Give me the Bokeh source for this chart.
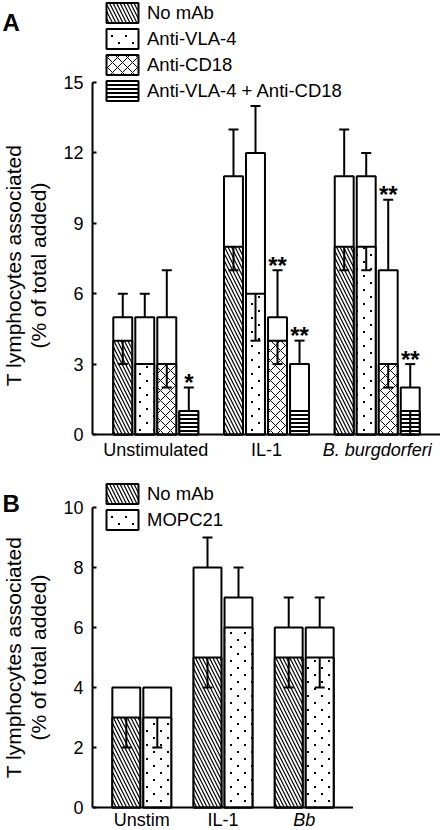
import math
import zlib
import struct
import base64
from bokeh.plotting import figure
from bokeh.models import (ColumnDataSource, FactorRange, FixedTicker, Whisker, TeeHead,
                          Legend, LegendItem, LabelSet, Range1d, Span, ImageURLTexture)
from bokeh.core.properties import value, field
from bokeh.layouts import column, row
from bokeh.embed import file_html
from bokeh.resources import INLINE

FONT = "Liberation Sans"

# ---------------- Panel A data ----------------
groups_a = ["Unstimulated", "IL-1", "B. burgdorferi"]
group_styles_a = ["normal", "normal", "italic"]
series_a = ["No mAb", "Anti-VLA-4", "Anti-CD18", "Anti-VLA-4 + Anti-CD18"]
ticks_a = [0, 3, 6, 9, 12, 15]

# hatched (lower) segment values and their lower error ends
nomab_low_a = [4, 8, 8]
vla4_low_a = [3, 6, 8]
cd18_low_a = [3, 4, 3]
both_low_a = [1, 1, 1]
nomab_low_err_a = [3, 7, 7]
vla4_low_err_a = [3, 4, 7]
cd18_low_err_a = [2, 3, 2]
both_low_err_a = [1, 1, 0]

# open (upper) bar values and their upper error ends
nomab_high_a = [5, 11, 11]
vla4_high_a = [5, 12, 11]
cd18_high_a = [5, 5, 7]
both_high_a = [1, 3, 2]
nomab_high_err_a = [6, 13, 13]
vla4_high_err_a = [6, 14, 12]
cd18_high_err_a = [7, 7, 10]
both_high_err_a = [2, 4, 3]

# significance marks
nomab_sig_a = ["", "", ""]
vla4_sig_a = ["", "", ""]
cd18_sig_a = ["", "**", "**"]
both_sig_a = ["*", "**", "**"]

# ---------------- Panel B data ----------------
groups_b = ["Unstim", "IL-1", "Bb"]
group_styles_b = ["normal", "normal", "italic"]
series_b = ["No mAb", "MOPC21"]
ticks_b = [0, 2, 4, 6, 8, 10]

nomab_low_b = [3, 5, 5]
mopc_low_b = [3, 6, 5]
nomab_low_err_b = [2, 4, 4]
mopc_low_err_b = [2, 6, 4]
nomab_high_b = [4, 8, 6]
mopc_high_b = [4, 7, 6]
nomab_high_err_b = [4, 9, 7]
mopc_high_err_b = [4, 8, 7]
nomab_sig_b = ["", "", ""]
mopc_sig_b = ["", "", ""]

Y_TITLE_1 = "T lymphocytes associated"
Y_TITLE_2 = "(% of total added)"


def dot_tile_png(size, dot, offsets):
    """Tiny transparent PNG tile with square black dots (a fill texture)."""
    rows = []
    for yy in range(size):
        line = bytearray(b"\x00")
        for xx in range(size):
            on = any(ox <= xx < ox + dot and oy <= yy < oy + dot for ox, oy in offsets)
            line += bytes((0, 0, 0, 255)) if on else bytes((255, 255, 255, 0))
        rows.append(bytes(line))
    raw = b"".join(rows)

    def chunk(tag, data):
        return (struct.pack(">I", len(data)) + tag + data +
                struct.pack(">I", zlib.crc32(tag + data) & 0xFFFFFFFF))

    png = (b"\x89PNG\r\n\x1a\n" +
           chunk(b"IHDR", struct.pack(">IIBBBBB", size, size, 8, 6, 0, 0, 0)) +
           chunk(b"IDAT", zlib.compress(raw)) + chunk(b"IEND", b""))
    return "data:image/png;base64," + base64.b64encode(png).decode()


DOT_URL = dot_tile_png(14, 2, [(2, 2), (9, 9)])


def sparse_dots():
    return dict(hatch_pattern=value("sparse_dots"),
                hatch_extra={"sparse_dots": ImageURLTexture(url=DOT_URL)})


HATCH = {
    "No mAb": dict(hatch_pattern="\\", hatch_scale=7, hatch_weight=1.2),
    "Anti-VLA-4": sparse_dots(),
    "MOPC21": sparse_dots(),
    "Anti-CD18": dict(hatch_pattern="x", hatch_scale=10, hatch_weight=1.0),
    "Anti-VLA-4 + Anti-CD18": dict(hatch_pattern="-", hatch_scale=4, hatch_weight=2.0),
}

LEFT_W = 60      # width of the strip holding panel letter and axis title
AXIS_W = 32      # room for the tick labels


def title_strip(height, letter, letter_y, title_y, x1, x2):
    t = figure(width=LEFT_W, height=height, x_range=Range1d(0, LEFT_W),
               y_range=Range1d(0, height), x_axis_type=None, y_axis_type=None,
               min_border=0, output_backend="svg", toolbar_location=None)
    t.outline_line_color = None
    t.text(x=[2], y=[letter_y], text=[letter], text_font=value(FONT),
           text_font_size="24px", text_font_style="bold", text_align="left",
           text_baseline="alphabetic", text_color="black")
    t.text(x=[x1, x2], y=[title_y, title_y], text=[Y_TITLE_1, Y_TITLE_2],
           angle=math.pi / 2, text_font=value(FONT), text_font_size="21px",
           text_align="center", text_baseline="middle", text_color="black")
    return t


def build_panel(groups, gstyles, series, lows, low_errs, highs, high_errs, sigs, ticks,
                y_lo, y_hi, frame_w, frame_h, bar_w, rp, gp, legend_loc, cat_y):
    factors = [(g, s) for g in groups for s in series]
    xr = FactorRange(factors=factors, range_padding=rp, range_padding_units="absolute",
                     group_padding=gp, factor_padding=0)
    p = figure(x_range=xr, y_range=Range1d(y_lo, y_hi), frame_width=frame_w,
               frame_height=frame_h, min_border_left=AXIS_W, min_border_right=0,
               min_border_top=0, min_border_bottom=0, output_backend="svg",
               toolbar_location=None)
    p.outline_line_color = None
    p.xgrid.visible = False
    p.ygrid.visible = False
    p.xaxis.visible = False

    ya = p.yaxis[0]
    ya.ticker = FixedTicker(ticks=ticks)
    ya.bounds = (ticks[0], ticks[-1])
    ya.major_tick_in = 4
    ya.major_tick_out = 0
    ya.minor_tick_line_color = None
    ya.axis_line_width = 2
    ya.major_tick_line_width = 2
    ya.major_label_text_font = FONT
    ya.major_label_text_font_size = "18px"
    ya.major_label_text_color = "black"
    ya.major_label_standoff = 9

    # baseline (x axis line)
    p.add_layout(Span(location=0, dimension="width", line_color="black", line_width=2))

    # open (total) bars
    for s, hi in zip(series, highs):
        src = ColumnDataSource(dict(x=[(g, s) for g in groups], top=hi))
        p.vbar(x="x", top="top", width=bar_w, source=src, fill_color="white",
               line_color="black", line_width=2)
    # hatched (lower) bars
    items = []
    for s, lo in zip(series, lows):
        src = ColumnDataSource(dict(x=[(g, s) for g in groups], top=lo))
        r = p.vbar(x="x", top="top", width=bar_w, source=src, fill_color="white",
                   line_color="black", line_width=2, hatch_color="black", **HATCH[s])
        items.append(LegendItem(label=s, renderers=[r]))

    # error bars and significance marks
    for s, lo, le, hi, he, sg in zip(series, lows, low_errs, highs, high_errs, sigs):
        xs = [(g, s) for g in groups]
        dn = [(x, a, b) for x, a, b in zip(xs, le, lo) if a != b]
        if dn:
            src = ColumnDataSource(dict(x=[d[0] for d in dn], lower=[d[1] for d in dn],
                                        upper=[d[2] for d in dn]))
            p.add_layout(Whisker(source=src, base="x", lower="lower", upper="upper",
                                 dimension="height", line_width=2, line_color="black",
                                 lower_head=TeeHead(size=10, line_width=2), upper_head=None,
                                 level="annotation"))
        up = [(x, a, b) for x, a, b in zip(xs, hi, he) if a != b]
        if up:
            src = ColumnDataSource(dict(x=[d[0] for d in up], lower=[d[1] for d in up],
                                        upper=[d[2] for d in up]))
            p.add_layout(Whisker(source=src, base="x", lower="lower", upper="upper",
                                 dimension="height", line_width=2, line_color="black",
                                 upper_head=TeeHead(size=10, line_width=2), lower_head=None,
                                 level="annotation"))
        st = [(x, y, t) for x, y, t in zip(xs, he, sg) if t]
        if st:
            src = ColumnDataSource(dict(x=[d[0] for d in st], y=[d[1] for d in st],
                                        t=[d[2] for d in st]))
            p.add_layout(LabelSet(source=src, x="x", y="y", text="t", text_align="center",
                                  text_baseline="middle", y_offset=5,
                                  text_font=value(FONT), text_font_size="24px",
                                  text_font_style="bold", text_color="black"))

    # category labels (inside the frame, below the baseline)
    csrc = ColumnDataSource(dict(x=groups, y=[cat_y] * len(groups), style=gstyles, t=groups))
    p.text(x="x", y="y", text="t", source=csrc, text_align="center",
           text_baseline="alphabetic", text_font=value(FONT), text_font_size="18px",
           text_font_style=field("style"), text_color="black")

    legend = Legend(items=items, location=legend_loc, orientation="vertical",
                    glyph_width=40, glyph_height=25, label_standoff=5, spacing=1,
                    label_height=20, padding=0, margin=0, border_line_color=None,
                    background_fill_alpha=0, label_text_font=FONT,
                    label_text_font_size="18.5px", label_text_color="black")
    p.add_layout(legend)
    return p


# Panel A: 0 at y=434, 15 at y=82 (23.47 px per unit); frame 0..476
HA = 476
mainA = build_panel(groups_a, group_styles_a, series_a,
                    [nomab_low_a, vla4_low_a, cd18_low_a, both_low_a],
                    [nomab_low_err_a, vla4_low_err_a, cd18_low_err_a, both_low_err_a],
                    [nomab_high_a, vla4_high_a, cd18_high_a, both_high_a],
                    [nomab_high_err_a, vla4_high_err_a, cd18_high_err_a, both_high_err_a],
                    [nomab_sig_a, vla4_sig_a, cd18_sig_a, both_sig_a], ticks_a,
                    y_lo=-1.79, y_hi=18.494, frame_w=348, frame_h=HA, bar_w=0.86,
                    rp=0.875, gp=1.03, legend_loc=(10, 373), cat_y=-0.67)
stripA = title_strip(HA, "A", HA - 22, HA - 265, 12.7, 38)

# Panel B: 0 at y=807, 10 at y=507 (30 px per unit); frame 476..830
HB = 354
mainB = build_panel(groups_b, group_styles_b, series_b,
                    [nomab_low_b, mopc_low_b],
                    [nomab_low_err_b, mopc_low_err_b],
                    [nomab_high_b, mopc_high_b],
                    [nomab_high_err_b, mopc_high_err_b],
                    [nomab_sig_b, mopc_sig_b], ticks_b,
                    y_lo=-0.767, y_hi=11.033, frame_w=261, frame_h=HB, bar_w=0.9,
                    rp=0.59, gp=0.62, legend_loc=(10, 298), cat_y=-0.43)
stripB = title_strip(HB, "B", HB - (503 - 476), HB - (657 - 476), 12.7, 38)

layout = column(row(stripA, mainA, spacing=0), row(stripB, mainB, spacing=0), spacing=0)
open("out.html", "w").write(file_html(layout, INLINE))
